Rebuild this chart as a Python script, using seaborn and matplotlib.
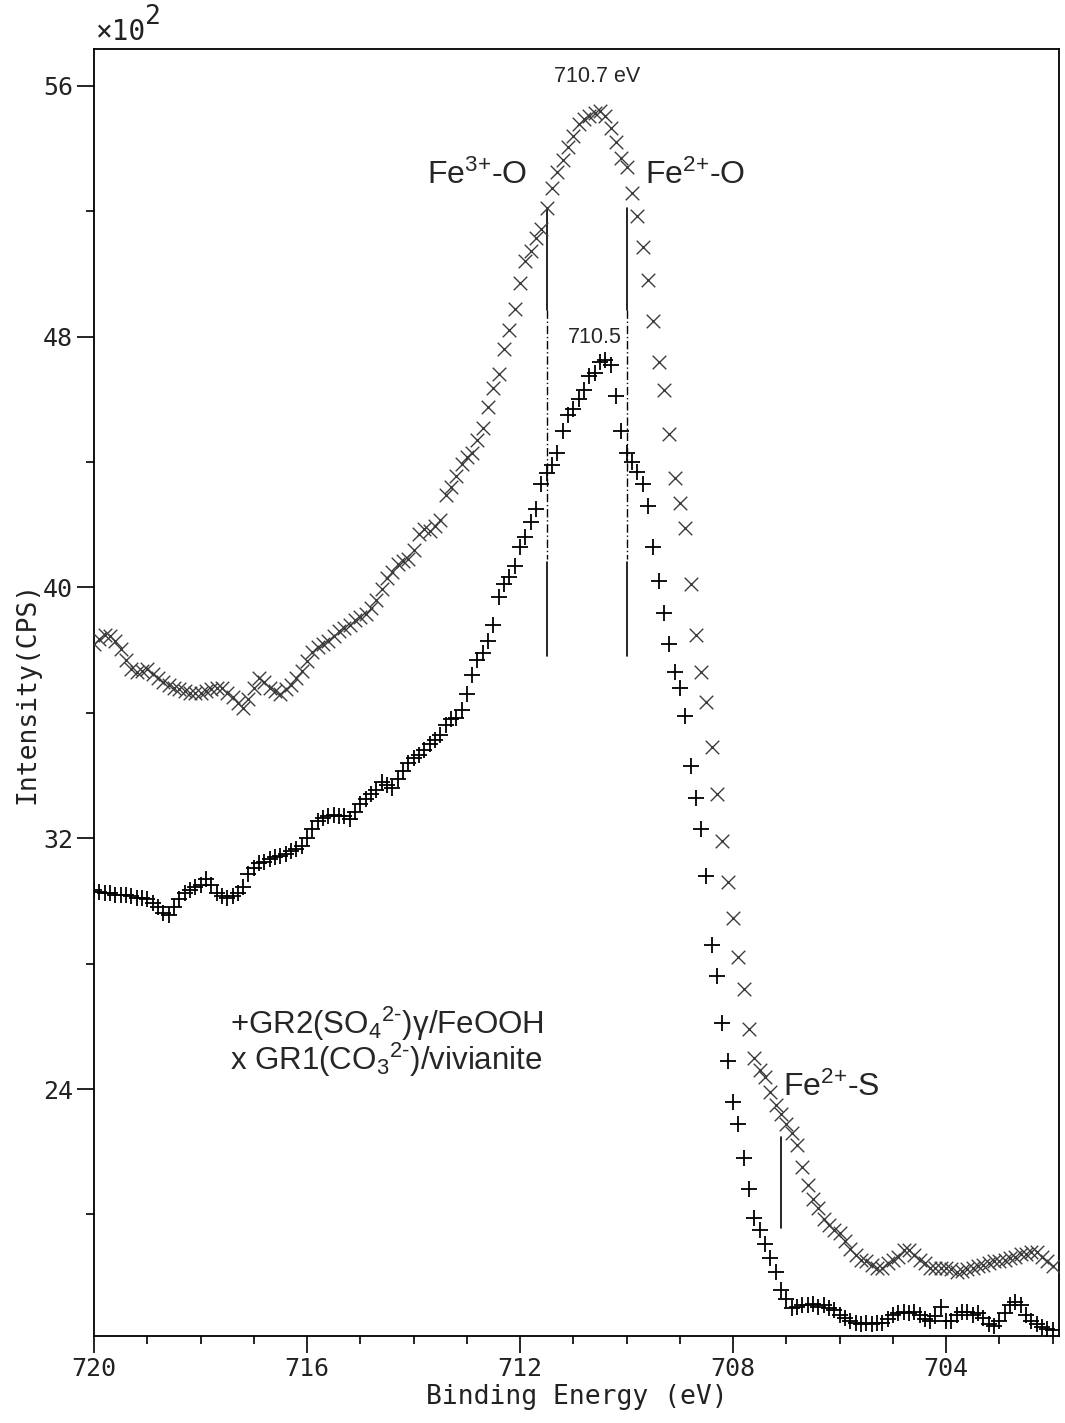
import pandas as pd
import matplotlib
matplotlib.use("Agg")
import matplotlib.pyplot as plt
import seaborn as sns

# -------------------------------
# 1. Data (intensity in units of 10^2 CPS)
# -------------------------------
energy = [
    720.0, 719.9, 719.8, 719.7, 719.6, 719.5, 719.4, 719.3, 719.2, 719.1,
    719.0, 718.9, 718.8, 718.7, 718.6, 718.5, 718.4, 718.3, 718.2, 718.1,
    718.0, 717.9, 717.8, 717.7, 717.6, 717.5, 717.4, 717.3, 717.2, 717.1,
    717.0, 716.9, 716.8, 716.7, 716.6, 716.5, 716.4, 716.3, 716.2, 716.1,
    716.0, 715.9, 715.8, 715.7, 715.6, 715.5, 715.4, 715.3, 715.2, 715.1,
    715.0, 714.9, 714.8, 714.7, 714.6, 714.5, 714.4, 714.3, 714.2, 714.1,
    714.0, 713.9, 713.8, 713.7, 713.6, 713.5, 713.4, 713.3, 713.2, 713.1,
    713.0, 712.9, 712.8, 712.7, 712.6, 712.5, 712.4, 712.3, 712.2, 712.1,
    712.0, 711.9, 711.8, 711.7, 711.6, 711.5, 711.4, 711.3, 711.2, 711.1,
    711.0, 710.9, 710.8, 710.7, 710.6, 710.5, 710.4, 710.3, 710.2, 710.1,
    710.0, 709.9, 709.8, 709.7, 709.6, 709.5, 709.4, 709.3, 709.2, 709.1,
    709.0, 708.9, 708.8, 708.7, 708.6, 708.5, 708.4, 708.3, 708.2, 708.1,
    708.0, 707.9, 707.8, 707.7, 707.6, 707.5, 707.4, 707.3, 707.2, 707.1,
    707.0, 706.9, 706.8, 706.7, 706.6, 706.5, 706.4, 706.3, 706.2, 706.1,
    706.0, 705.9, 705.8, 705.7, 705.6, 705.5, 705.4, 705.3, 705.2, 705.1,
    705.0, 704.9, 704.8, 704.7, 704.6, 704.5, 704.4, 704.3, 704.2, 704.1,
    704.0, 703.9, 703.8, 703.7, 703.6, 703.5, 703.4, 703.3, 703.2, 703.1,
    703.0, 702.9, 702.8, 702.7, 702.6, 702.5, 702.4, 702.3, 702.2, 702.1,
    702.0,
]

# + GR2(SO4)/gamma-FeOOH
gr2_counts = [
    30.35, 30.3, 30.25, 30.25, 30.2, 30.2, 30.2, 30.15, 30.1, 30.1,
    30.05, 29.95, 29.8, 29.6, 29.55, 29.8, 30.05, 30.25, 30.35, 30.45,
    30.5, 30.7, 30.5, 30.25, 30.15, 30.1, 30.15, 30.25, 30.45, 30.85,
    31.05, 31.2, 31.25, 31.35, 31.4, 31.45, 31.5, 31.6, 31.65, 31.75,
    32.0, 32.3, 32.55, 32.65, 32.7, 32.75, 32.7, 32.7, 32.6, 32.85,
    33.1, 33.25, 33.4, 33.55, 33.8, 33.7, 33.6, 33.9, 34.15, 34.4,
    34.55, 34.65, 34.8, 35.0, 35.15, 35.3, 35.6, 35.8, 35.85, 36.1,
    36.6, 37.2, 37.7, 37.9, 38.3, 38.8, 39.7, 40.1, 40.35, 40.7,
    41.3, 41.6, 42.1, 42.5, 43.3, 43.65, 43.9, 44.3, 45.0, 45.5,
    45.7, 46.0, 46.3, 46.75, 46.85, 47.2, 47.25, 47.1, 46.1, 45.0,
    44.3, 44.0, 43.7, 43.3, 42.6, 41.3, 40.2, 39.2, 38.2, 37.3,
    36.8, 35.9, 34.3, 33.3, 32.3, 30.8, 28.6, 27.6, 26.1, 24.9,
    23.6, 22.9, 21.8, 20.8, 19.9, 19.5, 19.05, 18.6, 18.15, 17.6,
    17.3, 17.0, 17.05, 17.1, 17.1, 17.15, 17.05, 17.1, 17.0, 16.95,
    16.8, 16.7, 16.6, 16.55, 16.5, 16.55, 16.5, 16.55, 16.55, 16.65,
    16.8, 16.85, 16.9, 16.85, 16.9, 16.8, 16.65, 16.6, 16.75, 17.05,
    16.6, 16.6, 16.8, 16.9, 16.9, 16.8, 16.85, 16.7, 16.5, 16.45,
    16.6, 16.85, 17.1, 17.2, 17.1, 16.8, 16.6, 16.5, 16.4, 16.35,
    16.3,
]

# x GR1(CO3)/vivianite
gr1_counts = [
    38.2, 38.35, 38.5, 38.45, 38.3, 38.05, 37.7, 37.4, 37.3, 37.35,
    37.4, 37.25, 37.1, 37.0, 36.9, 36.8, 36.75, 36.7, 36.65, 36.65,
    36.65, 36.7, 36.75, 36.8, 36.8, 36.65, 36.5, 36.3, 36.15, 36.45,
    36.8, 37.1, 37.0, 36.8, 36.7, 36.6, 36.75, 36.9, 37.1, 37.35,
    37.65, 37.95, 38.1, 38.2, 38.3, 38.45, 38.6, 38.7, 38.8, 38.95,
    39.05, 39.15, 39.35, 39.6, 39.95, 40.3, 40.5, 40.75, 40.85, 40.9,
    41.2, 41.7, 41.85, 41.8, 41.95, 42.15, 42.95, 43.2, 43.55, 43.95,
    44.15, 44.3, 44.7, 45.1, 45.75, 46.35, 46.8, 47.6, 48.2, 48.9,
    49.7, 50.4, 50.75, 51.15, 51.45, 52.1, 52.75, 53.25, 53.65, 54.05,
    54.4, 54.8, 54.95, 55.05, 55.15, 55.2, 55.05, 54.65, 54.2, 53.7,
    53.4, 52.6, 51.85, 50.85, 49.8, 48.5, 47.2, 46.3, 44.9, 43.5,
    42.7, 41.9, 40.1, 38.5, 37.3, 36.35, 34.9, 33.4, 31.9, 30.6,
    29.45, 28.2, 27.2, 25.9, 25.0, 24.6, 24.4, 23.9, 23.5, 23.2,
    22.9, 22.6, 22.2, 21.5, 20.95, 20.5, 20.2, 19.85, 19.65, 19.5,
    19.4, 19.15, 18.9, 18.7, 18.55, 18.5, 18.4, 18.3, 18.3, 18.45,
    18.55, 18.65, 18.85, 18.85, 18.7, 18.55, 18.45, 18.3, 18.3, 18.3,
    18.3, 18.25, 18.15, 18.2, 18.25, 18.3, 18.35, 18.4, 18.45, 18.5,
    18.5, 18.55, 18.6, 18.65, 18.75, 18.75, 18.8, 18.8, 18.65, 18.5,
    18.35,
]

x_major = [720, 716, 712, 708, 704]
y_major = [24, 32, 40, 48, 56]
y_minor = [20, 28, 36, 44, 52]

# component marker positions (eV)
fe3_o = 711.5
fe2_o = 710.0
fe2_s = 707.1

df = pd.DataFrame({"energy": energy, "gr2": gr2_counts, "gr1": gr1_counts})

# -------------------------------
# 2. Style
# -------------------------------
sns.set_style("ticks")
plt.rcParams["font.family"] = ["Liberation Sans", "DejaVu Sans"]
plt.rcParams["mathtext.fontset"] = "custom"
plt.rcParams["mathtext.rm"] = "Liberation Sans"
plt.rcParams["mathtext.it"] = "Liberation Sans:italic"
plt.rcParams["mathtext.default"] = "regular"

mono = "DejaVu Sans Mono"

fig = plt.figure(figsize=(10.65, 14.23), dpi=100)
ax = fig.add_axes([0.0883, 0.0611, 0.9061, 0.9045])

# -------------------------------
# 3. Spectra
# -------------------------------
sns.scatterplot(data=df, x="energy", y="gr1", marker="x", color="#3c3c3c",
                s=95, linewidth=1.0, ax=ax, zorder=3)
sns.scatterplot(data=df, x="energy", y="gr2", marker="+", color="black",
                s=120, linewidth=1.3, ax=ax, zorder=4)

# component markers
for e in [fe3_o, fe2_o]:
    ax.plot([e, e], [52.1, 48.85], color="black", lw=1.2)
    ax.plot([e, e], [48.85, 40.9], color="black", lw=1.0,
            linestyle=(0, (6, 2, 1, 2)))
    ax.plot([e, e], [40.8, 37.8], color="black", lw=1.2)
ax.plot([fe2_s, fe2_s], [22.46, 19.56], color="black", lw=1.2)

# -------------------------------
# 4. Annotations
# -------------------------------
ax.text(710.56, 56.29, "710.7 eV", fontsize=15.5, ha="center", va="center")
ax.text(710.6, 47.96, "710.5", fontsize=15.5, ha="center", va="center")
ax.text(712.8, 53.16, r"Fe$^{3{+}}$-O", fontsize=23, ha="center", va="center")
ax.text(708.72, 53.16, r"Fe$^{2{+}}$-O", fontsize=23, ha="center", va="center")
ax.text(706.15, 24.06, r"Fe$^{2{+}}$-S", fontsize=23, ha="center", va="center")
ax.text(717.45, 26.07, r"+GR2(SO$_4{}^{2\text{-}}$)γ/FeOOH", fontsize=22.5,
        ha="left", va="center")
ax.text(717.45, 24.92, r"x GR1(CO$_3{}^{2\text{-}}$)/vivianite", fontsize=22.5,
        ha="left", va="center")

# -------------------------------
# 5. Axes
# -------------------------------
ax.set_xlim(720, 701.88)
ax.set_ylim(16.12, 57.18)
ax.set_xticks(x_major)
ax.set_xticks(list(range(702, 721)), minor=True)
ax.set_yticks(y_major)
ax.set_yticks(y_minor, minor=True)
ax.set_xticklabels([str(v) for v in x_major], fontfamily=mono, fontsize=18)
ax.set_yticklabels([str(v) for v in y_major], fontfamily=mono, fontsize=18)
ax.tick_params(axis="both", which="both", bottom=True, left=True,
               top=False, right=False, direction="out", color="black")
ax.tick_params(axis="both", which="major", length=12, width=1.2, pad=3,
               labelcolor="#222222")
ax.tick_params(axis="both", which="minor", length=6, width=1.2)

for side in ["left", "right", "top", "bottom"]:
    ax.spines[side].set_visible(True)
    ax.spines[side].set_color("black")
    ax.spines[side].set_linewidth(1.3)

ax.set_xlabel("Binding Energy (eV)", fontfamily=mono, fontsize=19,
              color="#222222", labelpad=2)
ax.set_ylabel("Intensity(CPS)", fontfamily=mono, fontsize=19,
              color="#222222", labelpad=2)

# exponent note above the y axis
fig.text(0.0905, 0.9675, "\u00d710", fontfamily=mono, fontsize=20,
         color="#222222", ha="left", va="bottom")
fig.text(0.1365, 0.9790, "2", fontfamily=mono, fontsize=19,
         color="#222222", ha="left", va="bottom")

plt.savefig("out.png", dpi=100)
plt.close()
print("Saved out.png")
